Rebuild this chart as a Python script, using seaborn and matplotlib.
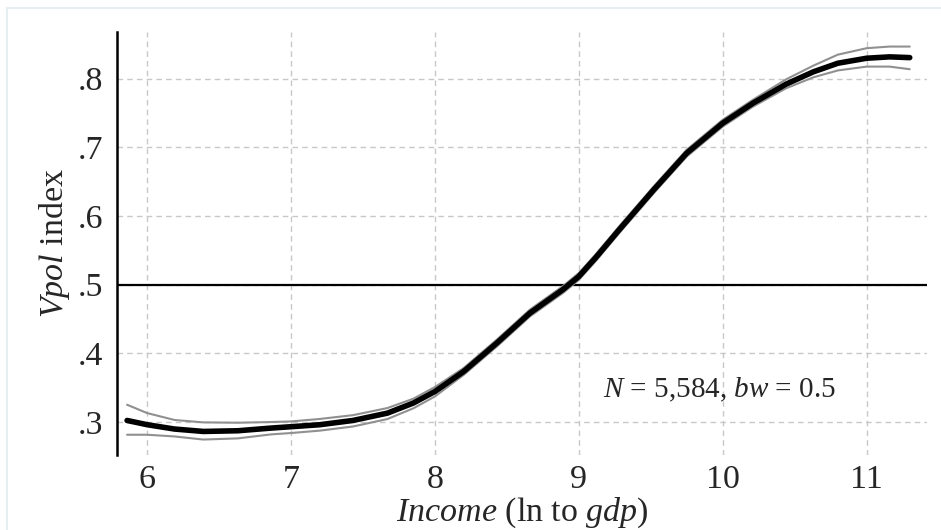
import matplotlib
matplotlib.use("Agg")
import matplotlib.pyplot as plt
import seaborn as sns
import pandas as pd
from matplotlib.lines import Line2D

# ---- data ----
income = [5.86, 6.0, 6.19, 6.39, 6.63, 6.86, 7.0, 7.2, 7.43, 7.67, 7.85, 8.0,
          8.2, 8.43, 8.66, 8.89, 9.0, 9.12, 9.28, 9.52, 9.75, 10.0, 10.21,
          10.44, 10.63, 10.8, 11.0, 11.16, 11.3]
vpol = [0.3023, 0.2961, 0.2898, 0.2863, 0.2873, 0.2912, 0.2932, 0.2961,
        0.3023, 0.3130, 0.3277, 0.3445, 0.3737, 0.4150, 0.4587, 0.4930,
        0.5120, 0.5400, 0.5799, 0.6381, 0.6916, 0.7352, 0.7643, 0.7920,
        0.8100, 0.8225, 0.8298, 0.8318, 0.8307]
upper = [0.3252, 0.3130, 0.3030, 0.2995, 0.2990, 0.3000, 0.3009, 0.3045,
         0.3100, 0.3204, 0.3340, 0.3510, 0.3787, 0.4200, 0.4637, 0.4980,
         0.5170, 0.5450, 0.5849, 0.6431, 0.6966, 0.7402, 0.7693, 0.7990,
         0.8190, 0.8350, 0.8444, 0.8468, 0.8468]
lower = [0.2815, 0.2815, 0.2790, 0.2745, 0.2762, 0.2820, 0.2840, 0.2875,
         0.2935, 0.3044, 0.3200, 0.3373, 0.3687, 0.4100, 0.4537, 0.4880,
         0.5070, 0.5350, 0.5749, 0.6331, 0.6866, 0.7302, 0.7593, 0.7860,
         0.8020, 0.8120, 0.8176, 0.8176, 0.8138]
xticks = [6, 7, 8, 9, 10, 11]
yticks = [0.3, 0.4, 0.5, 0.6, 0.7, 0.8]
yticklabels = [".3", ".4", ".5", ".6", ".7", ".8"]
reference_y = 0.5
note = r"$\mathit{N}$ = 5,584, $\mathit{bw}$ = 0.5"
note_pos = (9.17, 0.347)

df = pd.DataFrame({"income": income, "vpol": vpol, "upper": upper, "lower": lower})

sns.set_style("white")
plt.rcParams["font.family"] = ["Liberation Serif", "DejaVu Serif"]
plt.rcParams["mathtext.fontset"] = "custom"
plt.rcParams["mathtext.rm"] = "Liberation Serif"
plt.rcParams["mathtext.it"] = "Liberation Serif:italic"

fig = plt.figure(figsize=(9.41, 5.30), dpi=100)
ax = fig.add_axes([117/941, 1 - 455/530, (927 - 117)/941, (455 - 32)/530])

# faint outer frame (top & left)
fig.add_artist(Line2D([7/941, 1], [1 - 8/530, 1 - 8/530], transform=fig.transFigure,
                      color="#e6eef1", lw=1.5))
fig.add_artist(Line2D([7/941, 7/941], [0, 1 - 8/530], transform=fig.transFigure,
                      color="#e6eef1", lw=1.5))

ax.grid(True, color="#c8c8c8", linestyle=(0, (4, 3)), linewidth=1.0)
ax.set_axisbelow(True)

ax.axhline(reference_y, color="black", lw=1.6, zorder=2)

sns.lineplot(data=df, x="income", y="upper", ax=ax, color="#909090", lw=1.5, zorder=3)
sns.lineplot(data=df, x="income", y="lower", ax=ax, color="#909090", lw=1.5, zorder=3)
sns.lineplot(data=df, x="income", y="vpol", ax=ax, color="black", lw=4.0, zorder=4)

ax.set_xlim(5.79, 11.42)
ax.set_ylim(0.252, 0.868)
ax.set_xticks(xticks)
ax.set_xticklabels([str(t) for t in xticks])
ax.set_yticks(yticks)
ax.set_yticklabels(yticklabels)

for s in ["top", "right", "bottom"]:
    ax.spines[s].set_visible(False)
ax.spines["left"].set_linewidth(1.8)
ax.spines["left"].set_color("black")

ax.tick_params(axis="y", length=4, width=1, color="#c8c8c8", pad=6, labelsize=24.5)
ax.tick_params(axis="x", length=0, pad=7, labelsize=24.5)

ax.set_xlabel(r"$\mathit{Income}$ (ln to $\mathit{gdp}$)", fontsize=24.5, labelpad=0)
ax.set_ylabel(r"$\mathit{Vpol}$ index", fontsize=24.5, labelpad=4)

ax.text(note_pos[0], note_pos[1], note, fontsize=21, ha="left", va="center")

fig.savefig("out.png", dpi=100, facecolor="white")
